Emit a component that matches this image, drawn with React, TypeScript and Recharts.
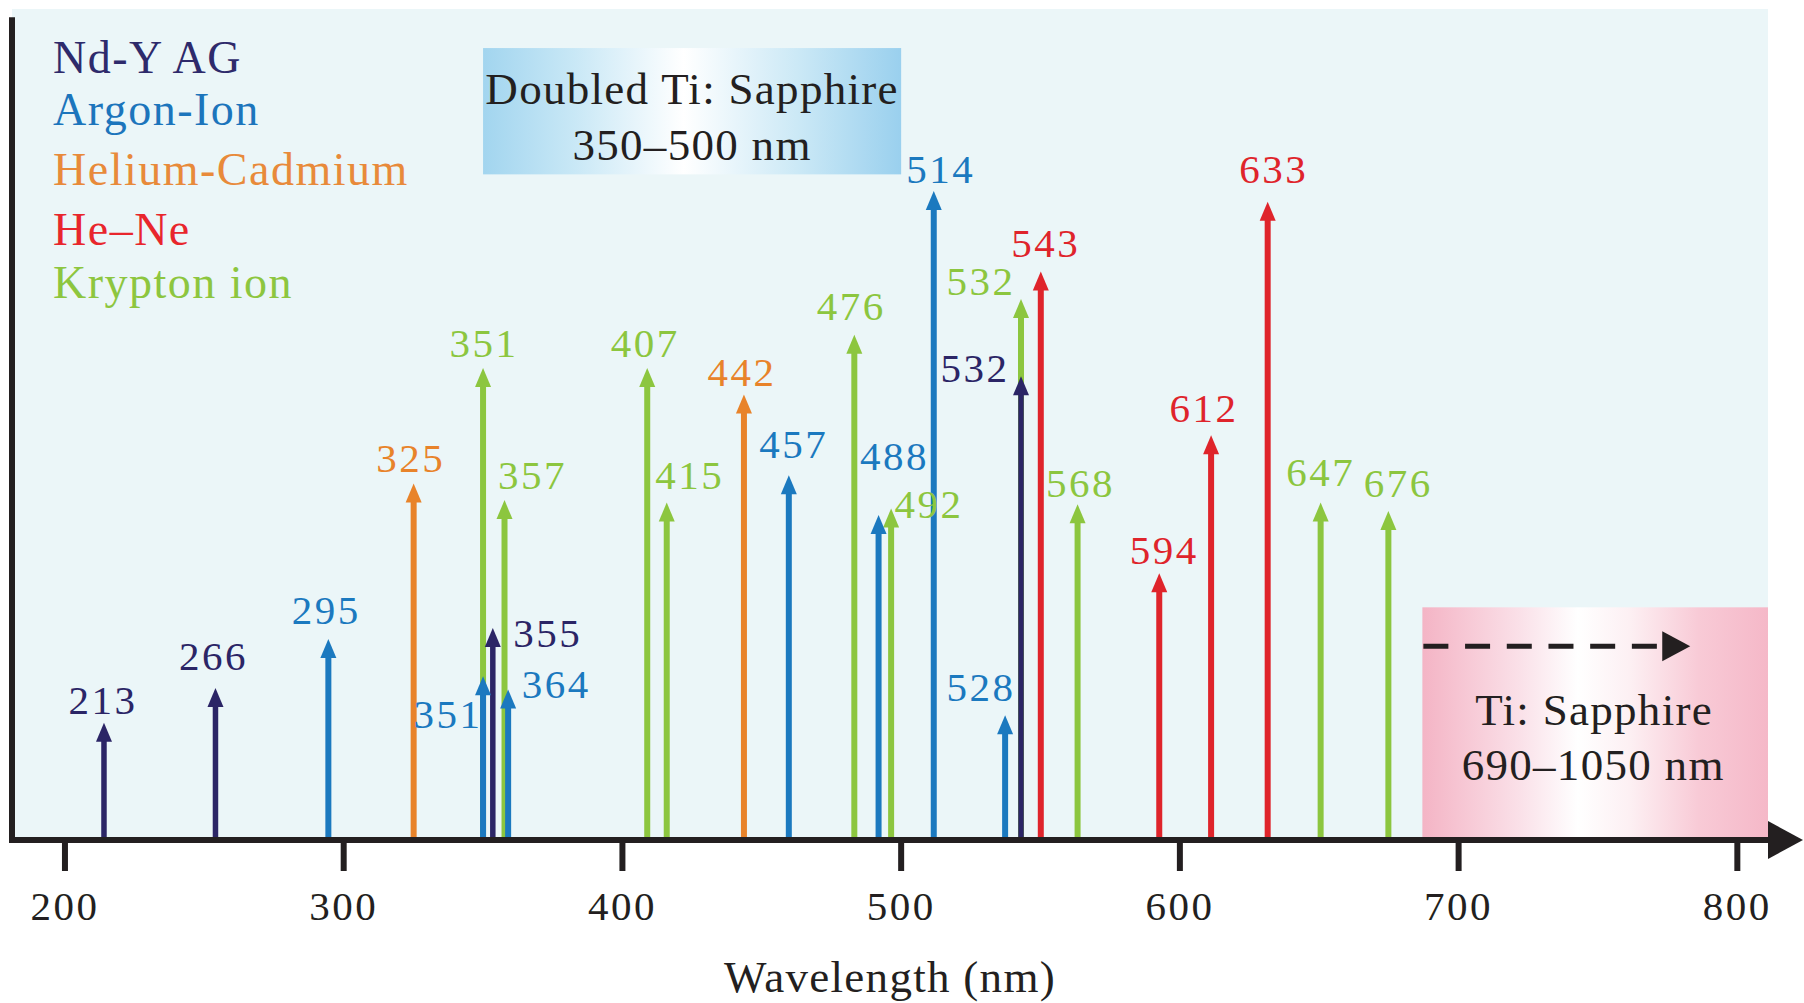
import React from 'react';
import {
  ComposedChart,
  XAxis,
  YAxis,
  Scatter,
  ReferenceArea,
  ReferenceLine,
} from 'recharts';

// ---- data ----
// x = where the line sits on the wavelength axis (nm), h = arrow height (0-100), label = printed text
const ND_YAG_LABELS = ['213', '266', '355', '532'];
const ND_YAG_X = [214, 254, 353.5, 543];
const ND_YAG_H = [14.1, 18.3, 25.5, 55.8];

const ARGON_LABELS = ['295', '351', '364', '457', '488', '514', '528'];
const ARGON_X = [294.5, 350, 359, 459.7, 491.9, 511.7, 537.3];
const ARGON_H = [24.2, 19.7, 18.1, 43.9, 39.1, 78.1, 15.0];

const HECD_LABELS = ['325', '442'];
const HECD_X = [325.1, 443.6];
const HECD_H = [42.9, 53.6];

const HENE_LABELS = ['543', '594', '612', '633'];
const HENE_X = [550.1, 592.6, 611.2, 631.5];
const HENE_H = [68.4, 32.1, 48.7, 76.8];

const KRYPTON_LABELS = ['351', '357', '407', '415', '476', '492', '532', '568', '647', '676'];
const KRYPTON_X = [350, 357.7, 408.9, 415.9, 483.2, 496.4, 543, 563.3, 650.5, 674.8];
const KRYPTON_H = [56.8, 40.9, 56.8, 40.6, 60.8, 39.9, 65.1, 40.4, 40.6, 39.6];

const X_TICKS = [200, 300, 400, 500, 600, 700, 800];
const X_DOMAIN: [number, number] = [181, 811];

const DOUBLED_RANGE = [350, 500];
const DOUBLED_BAND = [80.1, 95.3];
const TI_RANGE = [687, 811];
const TI_TOP = 28;

// ---- styles ----
const SERIF = '"Liberation Serif", "Times New Roman", serif';
const INK = '#231F20';
const BG = '#EBF6F8';

const SERIES = [
  { id: 'kr', name: 'Krypton ion', color: '#8CC63F', legend: '#8DC63F', labels: KRYPTON_LABELS, x: KRYPTON_X, h: KRYPTON_H, width: 6 },
  { id: 'cd', name: 'Helium-Cadmium', color: '#E8832A', legend: '#E88A3A', labels: HECD_LABELS, x: HECD_X, h: HECD_H, width: 6 },
  { id: 'ne', name: 'He–Ne', color: '#DF242B', legend: '#E8262C', labels: HENE_LABELS, x: HENE_X, h: HENE_H, width: 6 },
  { id: 'ar', name: 'Argon-Ion', color: '#1B79BF', legend: '#1C75BC', labels: ARGON_LABELS, x: ARGON_X, h: ARGON_H, width: 6 },
  { id: 'nd', name: 'Nd-Y AG', color: '#2B2566', legend: '#2E2A6B', labels: ND_YAG_LABELS, x: ND_YAG_X, h: ND_YAG_H, width: 5.5 },
];

const LEGEND_ORDER = ['nd', 'ar', 'cd', 'ne', 'kr'];

// where each number sits relative to its arrow tip (px)
const LABEL_OFFSET: Record<string, [number, number]> = {
  'nd-213': [-1, -23], 'nd-266': [-2, -32], 'nd-355': [55, 5], 'nd-532': [-46, -9],
  'ar-295': [-2, -29], 'ar-351': [-35, 37], 'ar-364': [48, -6], 'ar-457': [5, -32],
  'ar-488': [16, -59], 'ar-514': [7, -22], 'ar-528': [-24, -29],
  'cd-325': [-3, -26], 'cd-442': [-2, -23],
  'ne-543': [5, -29], 'ne-594': [5, -24], 'ne-612': [-7, -28], 'ne-633': [6, -33],
  'kr-351': [1, -25], 'kr-357': [28, -25], 'kr-407': [-2, -25], 'kr-415': [23, -28],
  'kr-476': [-3, -29], 'kr-492': [38, -5], 'kr-532': [-40, -18], 'kr-568': [3, -22],
  'kr-647': [0, -31], 'kr-676': [10, -28],
};

const numText = { fontFamily: SERIF, fontSize: 41, letterSpacing: 2.5 };

function Stem(props: any) {
  const { x1, y1, y2, stroke, strokeWidth } = props;
  const top = Math.min(y1, y2);
  const bottom = Math.max(y1, y2);
  return <line x1={x1} x2={x1} y1={bottom} y2={top + 14} stroke={stroke} strokeWidth={strokeWidth} />;
}

function Head(props: any) {
  const { cx, cy, payload, color } = props;
  const [dx, dy] = LABEL_OFFSET[payload.key] ?? [0, -26];
  return (
    <g>
      <polygon points={`${cx},${cy} ${cx - 8},${cy + 19} ${cx + 8},${cy + 19}`} fill={color} />
      <text x={cx + dx} y={cy + dy} dy="0.35em" textAnchor="middle" fill={color} style={numText}>
        {payload.label}
      </text>
    </g>
  );
}

function AxisArrow(props: any) {
  const { x1, x2, y1 } = props;
  return (
    <g>
      <line x1={x1 - 3} x2={x2 + 4} y1={y1} y2={y1} stroke={INK} strokeWidth={6} />
      <polygon points={`${x2},${y1 - 19} ${x2 + 35},${y1} ${x2},${y1 + 19}`} fill={INK} />
    </g>
  );
}

function DoubledBox(props: any) {
  const { x, y, width, height } = props;
  const cx = x + width / 2;
  const t = { fontFamily: SERIF, fontSize: 45, letterSpacing: 1.3, fill: INK };
  return (
    <g>
      <defs>
        <linearGradient id="dblGrad" x1="0" x2="1" y1="0" y2="0">
          <stop offset="0" stopColor="#A2D5EF" />
          <stop offset="0.22" stopColor="#C9E8F6" />
          <stop offset="0.48" stopColor="#FFFFFF" />
          <stop offset="0.75" stopColor="#CCE9F6" />
          <stop offset="1" stopColor="#9AD0EE" />
        </linearGradient>
      </defs>
      <rect x={x} y={y} width={width} height={height} fill="url(#dblGrad)" />
      <text x={cx} y={y + 56} textAnchor="middle" style={t}>Doubled Ti: Sapphire</text>
      <text x={cx} y={y + 112} textAnchor="middle" style={t}>350–500 nm</text>
    </g>
  );
}

function TiBox(props: any) {
  const { x, y, width, height } = props;
  const cx = x + width / 2;
  const t = { fontFamily: SERIF, fontSize: 45, letterSpacing: 1.3, fill: INK };
  const ay = y + 39;
  const tip = x + width * 0.775;
  return (
    <g>
      <defs>
        <linearGradient id="tiGrad" x1="0" x2="1" y1="0" y2="0">
          <stop offset="0" stopColor="#F4B4C5" />
          <stop offset="0.28" stopColor="#FAE0E8" />
          <stop offset="0.45" stopColor="#FFFFFF" />
          <stop offset="0.6" stopColor="#FDF0F3" />
          <stop offset="0.8" stopColor="#F8CAD6" />
          <stop offset="1" stopColor="#F5B8C8" />
        </linearGradient>
      </defs>
      <rect x={x} y={y} width={width} height={height} fill="url(#tiGrad)" />
      <line x1={x + 1} x2={tip - 26} y1={ay} y2={ay} stroke={INK} strokeWidth={5} strokeDasharray="25 16.7" />
      <polygon points={`${tip - 28},${ay - 15} ${tip},${ay} ${tip - 28},${ay + 15}`} fill={INK} />
      <text x={cx - 1} y={y + 118} textAnchor="middle" style={t}>Ti: Sapphire</text>
      <text x={cx - 2} y={y + 173} textAnchor="middle" style={t}>690–1050 nm</text>
    </g>
  );
}

export default function App() {
  const seriesData = SERIES.map((s) => ({
    ...s,
    points: s.labels.map((label, i) => ({ x: s.x[i], v: s.h[i], label, key: `${s.id}-${label}` })),
  }));

  return (
    <div style={{ position: 'absolute', left: 0, top: 0, width: 1804, height: 1003, background: '#FFFFFF' }}>
      <ComposedChart width={1804} height={1003} margin={{ top: 9, right: 36, bottom: 3, left: 12 }}>
        <XAxis
          type="number"
          dataKey="x"
          domain={X_DOMAIN}
          ticks={X_TICKS}
          allowDataOverflow
          axisLine={false}
          tickSize={31}
          tickMargin={20}
          tickLine={{ stroke: INK, strokeWidth: 6 }}
          tick={{ fill: INK, fontSize: 41, fontFamily: SERIF, letterSpacing: 2.5 }}
          height={160}
          label={{
            value: 'Wavelength (nm)',
            position: 'insideBottom',
            offset: 8,
            fill: INK,
            fontSize: 45,
            fontFamily: SERIF,
            letterSpacing: 1.3,
          }}
        />
        <YAxis type="number" dataKey="v" domain={[0, 100]} hide width={0} />

        <ReferenceArea x1={X_DOMAIN[0]} x2={X_DOMAIN[1]} y1={0} y2={100} fill={BG} fillOpacity={1} ifOverflow="visible" />
        <ReferenceArea
          x1={DOUBLED_RANGE[0]}
          x2={DOUBLED_RANGE[1]}
          y1={DOUBLED_BAND[0]}
          y2={DOUBLED_BAND[1]}
          ifOverflow="visible"
          shape={(p: any) => <DoubledBox {...p} />}
        />
        <ReferenceArea
          x1={TI_RANGE[0]}
          x2={TI_RANGE[1]}
          y1={0}
          y2={TI_TOP}
          ifOverflow="visible"
          shape={(p: any) => <TiBox {...p} />}
        />

        {seriesData.flatMap((s) =>
          s.points.map((p) => (
            <ReferenceLine
              key={`stem-${p.key}`}
              segment={[{ x: p.x, y: 0 }, { x: p.x, y: p.v }]}
              stroke={s.color}
              strokeWidth={s.width}
              ifOverflow="visible"
              shape={(lp: any) => <Stem {...lp} />}
            />
          )),
        )}

        <ReferenceLine
          segment={[{ x: X_DOMAIN[0], y: 99 }, { x: X_DOMAIN[0], y: 0 }]}
          stroke={INK}
          strokeWidth={6}
          ifOverflow="visible"
        />
        <ReferenceLine y={0} ifOverflow="visible" shape={(lp: any) => <AxisArrow {...lp} />} />

        {seriesData.map((s) => (
          <Scatter
            key={s.id}
            name={s.name}
            data={s.points}
            isAnimationActive={false}
            shape={(sp: any) => <Head {...sp} color={s.color} />}
          />
        ))}
      </ComposedChart>

      <svg width={1804} height={1003} style={{ position: 'absolute', left: 0, top: 0, pointerEvents: 'none' }}>
        {LEGEND_ORDER.map((id, i) => {
          const s = SERIES.find((q) => q.id === id)!;
          const baselines = [73, 125, 185, 245, 298];
          return (
            <text
              key={id}
              x={53}
              y={baselines[i]}
              fill={s.legend}
              style={{ fontFamily: SERIF, fontSize: 46, letterSpacing: 1.5 }}
            >
              {s.name}
            </text>
          );
        })}
      </svg>
    </div>
  );
}
